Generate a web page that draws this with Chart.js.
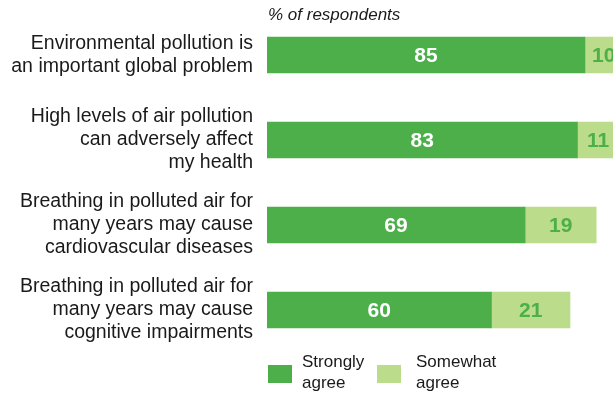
<!DOCTYPE html>
<html>
<head>
<meta charset="utf-8">
<script src="https://cdn.jsdelivr.net/npm/chart.js@4/dist/chart.umd.min.js"></script>
<style>
  html, body { margin: 0; padding: 0; background: #fff; }
  #wrap { width: 613px; height: 396px; }
</style>
</head>
<body>
<div id="wrap"><canvas id="chart"></canvas></div>
<script>
// statements shown on the left (multi-line)
const statements = [
  ['Environmental pollution is', 'an important global problem'],
  ['High levels of air pollution', 'can adversely affect', 'my health'],
  ['Breathing in polluted air for', 'many years may cause', 'cardiovascular diseases'],
  ['Breathing in polluted air for', 'many years may cause', 'cognitive impairments']
];
const seriesNames = [['Strongly', 'agree'], ['Somewhat', 'agree']];
const stronglyAgree = [85, 83, 69, 60];
const somewhatAgree = [10, 11, 19, 21];
const axisTitle = '% of respondents';

const DARK = '#4caf4a';
const LIGHT = '#bbdc8b';
const TEXT = '#1a1a1a';
const FONT = '"Liberation Sans", sans-serif';

// value labels inside each bar segment
const valueLabels = {
  id: 'valueLabels',
  afterDatasetsDraw(chart) {
    const ctx = chart.ctx;
    ctx.save();
    ctx.font = 'bold 21px ' + FONT;
    ctx.textAlign = 'center';
    ctx.textBaseline = 'middle';
    chart.data.datasets.forEach((ds, di) => {
      chart.getDatasetMeta(di).data.forEach((bar, i) => {
        ctx.fillStyle = di === 0 ? '#ffffff' : DARK;
        ctx.fillText(String(ds.data[i]), (bar.x + bar.base) / 2, bar.y + 1);
      });
    });
    ctx.restore();
  }
};

// italic heading over the bars and the two-line legend underneath
const extras = {
  id: 'extras',
  afterDraw(chart) {
    const ctx = chart.ctx;
    const left = chart.chartArea.left;
    ctx.save();
    ctx.fillStyle = TEXT;
    ctx.font = 'italic 17px ' + FONT;
    ctx.textBaseline = 'middle';
    ctx.textAlign = 'left';
    ctx.fillText(axisTitle, left + 1, 15);

    const boxes = [left + 1, left + 110];
    chart.data.datasets.forEach((ds, di) => {
      const x = boxes[di];
      ctx.fillStyle = ds.backgroundColor;
      ctx.fillRect(x, 365, 24, 18);
      ctx.fillStyle = TEXT;
      ctx.font = '17px ' + FONT;
      const tx = di === 0 ? x + 34 : x + 39;
      seriesNames[di].forEach((line, li) => ctx.fillText(line, tx, 362 + li * 21));
    });
    ctx.restore();
  }
};

new Chart(document.getElementById('chart'), {
  type: 'bar',
  data: {
    labels: statements,
    datasets: [
      { label: 'Strongly agree', data: stronglyAgree, backgroundColor: DARK, barThickness: 36 },
      { label: 'Somewhat agree', data: somewhatAgree, backgroundColor: LIGHT, barThickness: 36 }
    ]
  },
  options: {
    indexAxis: 'y',
    responsive: true,
    maintainAspectRatio: false,
    animation: false,
    layout: { padding: { top: 12.5, bottom: 43.5, left: 0, right: 0 } },
    plugins: {
      legend: { display: false },
      tooltip: { enabled: false }
    },
    scales: {
      x: { stacked: true, display: false, min: 0, max: 92.5 },
      y: {
        stacked: true,
        grid: { display: false, drawTicks: false },
        border: { display: false },
        ticks: {
          color: TEXT,
          padding: 14,
          font: { family: FONT, size: 19.5, lineHeight: 1.18 }
        },
        afterFit: scale => {
          scale.width = 267;
          scale.paddingTop = 0;
          scale.paddingBottom = 0;
        }
      }
    }
  },
  plugins: [valueLabels, extras]
});
</script>
</body>
</html>
